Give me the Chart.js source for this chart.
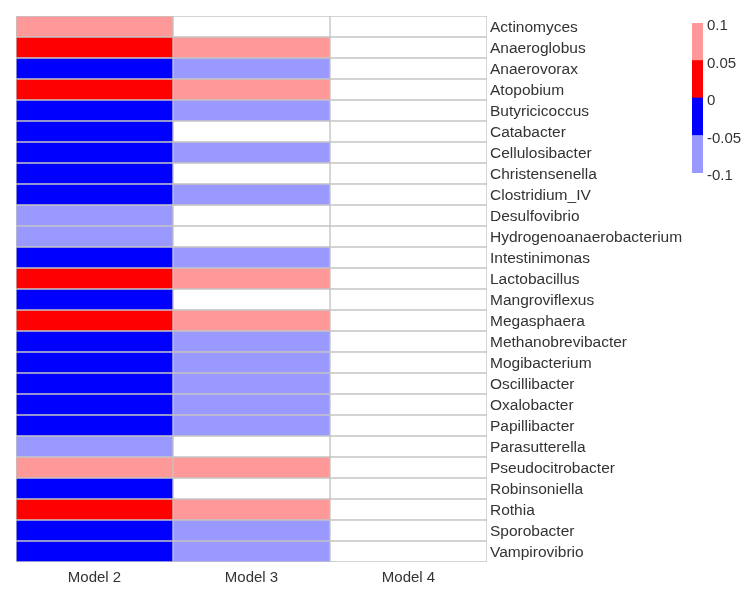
<!DOCTYPE html>
<html>
<head>
<meta charset="utf-8">
<script src="https://cdn.jsdelivr.net/npm/chart.js@4/dist/chart.umd.min.js"></script>
<style>
  html, body { margin: 0; padding: 0; background: #fff; }
  #caja { position: relative; width: 753px; height: 594px; }
  #mapa { position: absolute; left: 0; top: 0; }
  #barra { position: absolute; left: 692px; top: 0; }
</style>
</head>
<body>
<div id="caja">
  <canvas id="mapa" width="753" height="594"></canvas>
  <canvas id="barra" width="61" height="200"></canvas>
</div>
<script>
// Géneros (filas) y modelos (columnas)
const generos = ['Actinomyces', 'Anaeroglobus', 'Anaerovorax', 'Atopobium', 'Butyricicoccus',
  'Catabacter', 'Cellulosibacter', 'Christensenella', 'Clostridium_IV', 'Desulfovibrio',
  'Hydrogenoanaerobacterium', 'Intestinimonas', 'Lactobacillus', 'Mangroviflexus', 'Megasphaera',
  'Methanobrevibacter', 'Mogibacterium', 'Oscillibacter', 'Oxalobacter', 'Papillibacter',
  'Parasutterella', 'Pseudocitrobacter', 'Robinsoniella', 'Rothia', 'Sporobacter', 'Vampirovibrio'];
const modelos = ['Model 2', 'Model 3', 'Model 4'];

// Valores estimados por color (null = celda en blanco)
const modelo2 = [0.075, 0.025, -0.025, 0.025, -0.025, -0.025, -0.025, -0.025, -0.025, -0.075,
  -0.075, -0.025, 0.025, -0.025, 0.025, -0.025, -0.025, -0.025, -0.025, -0.025,
  -0.075, 0.075, -0.025, 0.025, -0.025, -0.025];
const modelo3 = [null, 0.075, -0.075, 0.075, -0.075, null, -0.075, null, -0.075, null,
  null, -0.075, 0.075, null, 0.075, -0.075, -0.075, -0.075, -0.075, -0.075,
  null, 0.075, null, 0.075, -0.075, -0.075];
const modelo4 = generos.map(() => null);
const valores = [modelo2, modelo3, modelo4];

// Escala de colores
const cortes = [-0.1, -0.05, 0, 0.05, 0.1];
const colores = ['#9999ff', '#0000ff', '#ff0000', '#ff9999'];

function colorPara(v) {
  if (v === null || v === undefined) return '#ffffff';
  for (let i = 0; i < colores.length; i++) {
    if (v >= cortes[i] && v < cortes[i + 1]) return colores[i];
  }
  return v < 0 ? colores[0] : colores[colores.length - 1];
}

const familia = "'Liberation Sans', Arial, sans-serif";
const fuenteFilas = { family: familia, size: 15.5 };
const fuente = { family: familia, size: 15 };
const gris = '#333333';

// Mapa de calor: barras flotantes horizontales, una por columna
const datasets = modelos.map((m, i) => ({
  label: m,
  data: generos.map(() => [i, i + 1]),
  backgroundColor: ctx => colorPara(valores[ctx.datasetIndex][ctx.dataIndex]),
  borderColor: '#c4c4c4',
  borderWidth: 1,
  borderSkipped: false,
  barPercentage: 1,
  categoryPercentage: 1,
  grouped: false
}));

new Chart(document.getElementById('mapa').getContext('2d'), {
  type: 'bar',
  data: { labels: generos, datasets: datasets },
  options: {
    indexAxis: 'y',
    responsive: false,
    animation: false,
    layout: { padding: { left: 16, top: 16, right: 0, bottom: 0 } },
    plugins: { legend: { display: false }, tooltip: { enabled: false } },
    scales: {
      x: {
        type: 'linear',
        min: 0,
        max: 3,
        grid: { display: false, drawTicks: false },
        border: { display: false },
        afterBuildTicks: s => { s.ticks = [0.5, 1.5, 2.5].map(v => ({ value: v })); },
        afterFit: s => { s.height = 32; },
        ticks: {
          color: gris,
          font: fuente,
          padding: 7,
          maxRotation: 0,
          callback: v => modelos[Math.floor(v)]
        }
      },
      y: {
        position: 'right',
        grid: { display: false, drawTicks: false },
        border: { display: false },
        afterFit: s => { s.width = 266; },
        ticks: { color: gris, font: fuenteFilas, padding: 3, autoSkip: false, labelOffset: 1 }
      }
    }
  }
});

// Barra de colores con su propia escala lineal
const tramos = colores.map((c, i) => ({
  data: [[cortes[i], cortes[i + 1]]],
  backgroundColor: c,
  barPercentage: 1,
  categoryPercentage: 1,
  grouped: false
}));

new Chart(document.getElementById('barra').getContext('2d'), {
  type: 'bar',
  data: { labels: [''], datasets: tramos },
  options: {
    responsive: false,
    animation: false,
    layout: { padding: { top: 23, bottom: 27, left: 0, right: 0 } },
    plugins: { legend: { display: false }, tooltip: { enabled: false } },
    scales: {
      x: { display: false },
      y: {
        position: 'right',
        min: -0.1,
        max: 0.1,
        grid: { display: false, drawTicks: false },
        border: { display: false },
        afterFit: s => { s.width = 50; },
        ticks: {
          stepSize: 0.05,
          color: gris,
          font: fuente,
          padding: 4,
          labelOffset: 3,
          callback: v => String(parseFloat(v.toFixed(2)))
        }
      }
    }
  }
});
</script>
</body>
</html>
